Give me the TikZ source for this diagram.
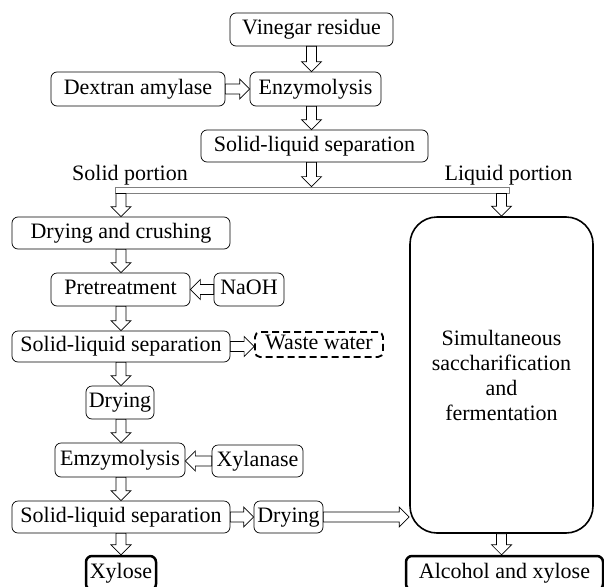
\documentclass[tikz,border=0pt]{standalone}
\usepackage{fontspec}
\setmainfont{Liberation Serif}
\usetikzlibrary{calc}
\begin{document}
\begin{tikzpicture}[x=1pt, y=1pt, font=\fontsize{22}{25}\selectfont,
  box/.style={draw, fill=white, rounded corners=6pt, line width=0.7pt, inner sep=0pt, text height=14.5pt, text depth=4.5pt},
  endbox/.style={box, line width=2.5pt},
  wastebox/.style={box, line width=1.8pt, rounded corners=5pt, dash pattern=on 7pt off 4pt},
  flow/.style={fill=white, line width=0.7pt, to path={
    let \p1=(\tikztostart), \p2=(\tikztotarget),
        \n1={atan2(\y2-\y1,\x2-\x1)}, \n2={veclen(\x2-\x1,\y2-\y1)} in
    {[shift={(\p1)}, rotate=\n1]
     (0pt,5pt) -- ({\n2-10pt},5pt) -- ({\n2-10pt},10pt) -- ({\n2*1pt},0pt)
     -- ({\n2-10pt},-10pt) -- ({\n2-10pt},-5pt) -- (0pt,-5pt) -- cycle}}}]
\useasboundingbox (0,0) rectangle (604,-586);
\node[box, minimum width=163pt, minimum height=33pt] (vinegar) at (311.5,-29.5) {Vinegar residue};
\node[box, minimum width=174pt, minimum height=34pt] (dextran) at (138,-89) {Dextran amylase};
\node[box, minimum width=131pt, minimum height=34pt] (enzyme) at (315.5,-89) {Enzymolysis};
\node[box, minimum width=227pt, minimum height=32pt] (sep1) at (314.5,-146) {Solid-liquid separation};
\node (solidtxt) at (130,-175) {Solid portion};
\node (liquidtxt) at (508.5,-175) {Liquid portion};
\node[draw=gray, fill=white, line width=0.8pt, inner sep=0pt, minimum width=394pt, minimum height=6pt] (split) at (312,-190) {};
\node[box, minimum width=218pt, minimum height=32pt] (drycrush) at (121,-233) {Drying and crushing};
\node[box, minimum width=139pt, minimum height=33pt] (pretreat) at (120.5,-289.5) {Pretreatment};
\node[box, minimum width=70pt, minimum height=33pt] (naoh) at (249,-289.5) {NaOH};
\node[box, minimum width=218pt, minimum height=31pt] (sep2) at (121,-346.5) {Solid-liquid separation};
\node[wastebox, minimum width=128pt, minimum height=25pt] (waste) at (319,-344.5) {Waste water};
\node[box, minimum width=68pt, minimum height=33pt] (dry1) at (120,-402.5) {Drying};
\node[box, minimum width=130pt, minimum height=34pt] (enzyme2) at (120,-460) {Emzymolysis};
\node[box, minimum width=91pt, minimum height=32pt] (xylanase) at (257.5,-461) {Xylanase};
\node[box, minimum width=218pt, minimum height=32pt] (sep3) at (121,-517) {Solid-liquid separation};
\node[box, minimum width=69pt, minimum height=32pt] (dry2) at (288.5,-517) {Drying};
\node[endbox, minimum width=70pt, minimum height=34pt] (xylose) at (121,-573) {Xylose};
\node[endbox, minimum width=197pt, minimum height=34pt] (product) at (504.5,-573) {Alcohol and xylose};
\node[draw, rounded corners=27pt, line width=1.6pt, align=center, minimum width=183pt, minimum height=316pt] (ssf) at (501.5,-375) {Simultaneous\\saccharification\\and\\fermentation};
\draw[flow] (vinegar.south) to (enzyme.north -| vinegar.south);
\draw[flow] (dextran.east) to (enzyme.west);
\draw[flow] (enzyme.south -| vinegar.south) to (sep1.north -| vinegar.south);
\draw[flow] (sep1.south -| vinegar.south) to (split.north -| vinegar.south);
\draw[flow] (split.south -| drycrush.north) to (drycrush.north);
\draw[flow] (split.south -| ssf.north) to (ssf.north);
\draw[flow] (drycrush.south) to (pretreat.north -| drycrush.south);
\draw[flow] (naoh.west) to (pretreat.east);
\draw[flow] (pretreat.south -| drycrush.south) to (sep2.north);
\draw[flow] (sep2.east) to (waste.west |- sep2.east);
\draw[flow] (sep2.south) to (dry1.north -| sep2.south);
\draw[flow] (dry1.south -| sep2.south) to (enzyme2.north -| sep2.south);
\draw[flow] (xylanase.west) to (enzyme2.east |- xylanase.west);
\draw[flow] (enzyme2.south -| sep2.south) to (sep3.north -| sep2.south);
\draw[flow] (sep3.east) to (dry2.west);
\draw[flow] (dry2.east) to (dry2.east -| ssf.west);
\draw[flow] (sep3.south) to (xylose.north);
\draw[flow] (ssf.south) to (product.north -| ssf.south);
\end{tikzpicture}
\end{document}
